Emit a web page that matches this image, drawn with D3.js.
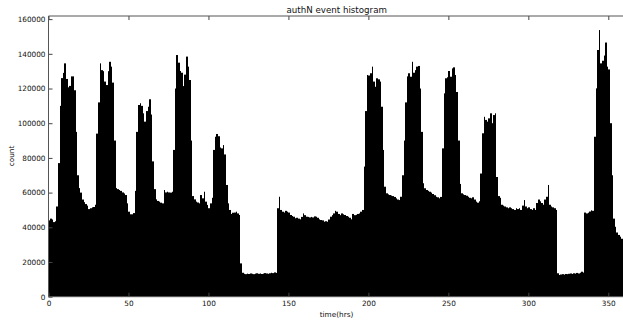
<!DOCTYPE html>
<html>
<head>
<meta charset="utf-8">
<script src="https://cdn.jsdelivr.net/npm/d3@7"></script>
<style>
  body { margin: 0; background: #fff; }
  svg { display: block; font-family: "DejaVu Sans", sans-serif; }
</style>
</head>
<body>
<div id="chart"></div>
<script>
// hourly event counts, one bin per hour starting at 0
const counts = [
  44000, 45000, 44500, 43000, 43500, 52000, 77000, 110000, 126000, 129000,
  134500, 125500, 120700, 121500, 127000, 127000, 119000, 95000, 70000, 62600,
  60000, 56000, 54500, 53400, 52500, 50500, 51000, 51500, 51700, 53000,
  94000, 112000, 134500, 130600, 130000, 124000, 122000, 130000, 135400, 132600,
  123400, 90000, 62600, 62000, 61500, 61000, 60100, 59500, 58600, 53800,
  49000, 47500, 47500, 48200, 61000, 95000, 110500, 111500, 110000, 105700,
  100900, 107000, 109500, 113800, 105000, 78000, 62000, 56100, 55200, 54800,
  54200, 53800, 61500, 60100, 60500, 60100, 60000, 60500, 84600, 120000,
  139300, 134900, 130100, 129100, 121400, 128000, 138400, 132600, 124900, 90000,
  58000, 56100, 54800, 54300, 53800, 58600, 56700, 60500, 54800, 52900,
  51000, 53800, 57000, 84600, 92200, 93800, 92500, 86000, 85500, 87400,
  82000, 64400, 53800, 50000, 47700, 48400, 48500, 49000, 48000, 47100,
  19200, 13800, 13200, 13000, 13300, 13100, 13400, 13200, 13000, 13300,
  13500, 13200, 13400, 13100, 13300, 13600, 13400, 13200, 13500, 13800,
  13600, 14000, 13700, 51000, 57600, 50000, 49000, 48500, 49500, 49000,
  48500, 47100, 46500, 46100, 45200, 45500, 45000, 44600, 46000, 48000,
  47000, 46100, 46000, 45700, 46000, 45700, 46300, 46100, 45500, 44600,
  44200, 44000, 43200, 43500, 43200, 44500, 46100, 47000, 48000, 49500,
  49000, 47700, 47000, 48000, 47500, 47100, 46500, 46100, 45500, 44600,
  47700, 47000, 47200, 47700, 48000, 49000, 50000, 75000, 107000, 127800,
  127500, 128800, 132600, 124000, 121000, 125900, 125300, 124000, 109500, 84600,
  63400, 59600, 59000, 58600, 58300, 58000, 57500, 56700, 56000, 55700,
  57600, 70000, 90000, 112000, 127000, 128800, 126800, 135400, 129100, 130600,
  132600, 133000, 120000, 95000, 65400, 62500, 61500, 61000, 60500, 60000,
  59200, 58500, 57600, 57300, 56700, 57500, 85500, 117200, 125900, 126500,
  130100, 126800, 131600, 132200, 127800, 118000, 90000, 65000, 59600, 59000,
  58600, 58200, 57600, 57000, 56700, 57300, 56000, 54800, 54200, 55000,
  71000, 94200, 103700, 101900, 100900, 102800, 105700, 100000, 104700, 105700,
  69000, 58000, 57000, 53000, 52500, 52000, 51500, 51000, 51500, 51000,
  50500, 50000, 51000, 50500, 51000, 50000, 52500, 55700, 52000, 51000,
  51500, 50500, 50000, 51000, 50000, 54000, 56000, 55000, 54000, 53000,
  56000, 57600, 64400, 53000, 52000, 51500, 51000, 50000, 13500, 12500,
  12800, 13000, 12700, 13100, 13000, 13200, 13400, 13100, 13500, 13300,
  13700, 13400, 13800, 14400, 13900, 48500, 48000, 48400, 49100, 49800,
  49500, 92200, 120100, 142200, 153700, 134500, 136000, 139000, 146500, 132600,
  131000, 100000, 70000, 45000, 40300, 37000, 35600, 34600, 33400, 33000
]
const binHours = counts.map((c, i) => i)

const xTicks = [0, 50, 100, 150, 200, 250, 300, 350]
const yTicks = [0, 20000, 40000, 60000, 80000, 100000, 120000, 140000, 160000]

const width = 623, height = 320
const plotLeft = 48.5, plotTop = 16, plotBottom = 296.7

const x = d3.scaleLinear().domain([0, 360]).range([plotLeft, 624.3])
const y = d3.scaleLinear().domain([0, 161800]).range([plotBottom, plotTop])

const svg = d3.select('#chart').append('svg')
    .attr('width', width)
    .attr('height', height)

// bars - snap bin edges to whole pixels so neighbours meet without seams
const edge = h => Math.round(x(h))

svg.append('g')
    .attr('class', 'bars')
  .selectAll('rect')
  .data(binHours)
  .join('rect')
    .attr('x', d => edge(d))
    .attr('width', d => edge(d + 1) - edge(d))
    .attr('y', d => y(counts[d]))
    .attr('height', d => y(0) - y(counts[d]))
    .attr('fill', '#000')

// axes, ticks point inward like the old matplotlib style
const fontSize = 7.3

svg.append('g')
    .attr('transform', `translate(0,${plotBottom})`)
    .call(d3.axisBottom(x).tickValues(xTicks).tickSize(-4).tickPadding(4).tickFormat(d3.format('d')))
    .call(g => g.select('.domain').remove())
    .call(g => g.selectAll('.tick line').attr('stroke', '#444'))
    .call(g => g.selectAll('text').attr('font-size', fontSize).attr('fill', '#111').attr('font-family', 'DejaVu Sans'))

svg.append('g')
    .attr('transform', `translate(0,${plotTop})`)
    .call(d3.axisTop(x).tickValues(xTicks).tickSize(-4).tickFormat(''))
    .call(g => g.select('.domain').remove())
    .call(g => g.selectAll('.tick line').attr('stroke', '#444'))

svg.append('g')
    .attr('transform', `translate(${plotLeft},0)`)
    .call(d3.axisLeft(y).tickValues(yTicks).tickSize(-4).tickPadding(3).tickFormat(d3.format('d')))
    .call(g => g.select('.domain').remove())
    .call(g => g.selectAll('.tick line').attr('stroke', '#444'))
    .call(g => g.selectAll('text').attr('font-size', fontSize).attr('fill', '#111').attr('font-family', 'DejaVu Sans'))

// frame (right side runs off the picture)
svg.append('path')
    .attr('d', `M${width},${plotTop}H${plotLeft}V${plotBottom}H${width}`)
    .attr('fill', 'none')
    .attr('stroke', '#555')
    .attr('stroke-width', 1)

svg.append('text')
    .attr('x', 336.7)
    .attr('y', 13)
    .attr('text-anchor', 'middle')
    .attr('font-size', 8.7)
    .attr('fill', '#111')
    .text('authN event histogram')

svg.append('text')
    .attr('x', 336.5)
    .attr('y', 316.5)
    .attr('text-anchor', 'middle')
    .attr('font-size', fontSize)
    .attr('fill', '#111')
    .text('time(hrs)')

svg.append('text')
    .attr('transform', 'translate(14,156) rotate(-90)')
    .attr('text-anchor', 'middle')
    .attr('font-size', fontSize)
    .attr('fill', '#111')
    .text('count')
</script>
</body>
</html>
